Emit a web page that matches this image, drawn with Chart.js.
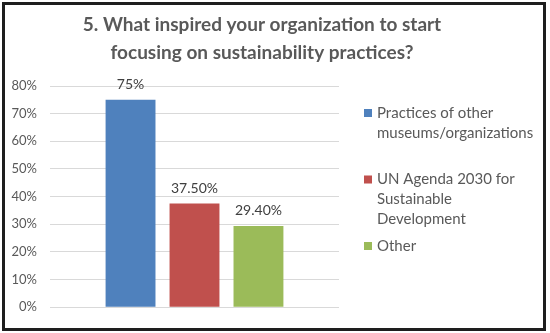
<!DOCTYPE html>
<html>
<head>
<meta charset="utf-8">
<script src="https://cdn.jsdelivr.net/npm/chart.js@4.4.0/dist/chart.umd.min.js"></script>
<style>
  body { margin: 0; background: #fff; }
  #box { position: absolute; left: 2px; top: 2px; width: 538px; height: 323px; border: 3px solid #1e1e1e; }
  canvas { display: block; }
</style>
</head>
<body>
<div id="box"><canvas id="chart" width="538" height="323"></canvas></div>
<script>
const titleLines = ['5. What inspired your organization to start', 'focusing on sustainability practices?'];
const seriesNames = ['Practices of other museums/organizations', 'UN Agenda 2030 for Sustainable Development', 'Other'];
const legendLines = [
    ['Practices of other', 'museums/organizations'],
    ['UN Agenda 2030 for', 'Sustainable', 'Development'],
    ['Other'],
];
const values = [75, 37.5, 29.4];
const valueLabels = ['75%', '37.50%', '29.40%'];
const colors = ['#4F81BD', '#C0504D', '#9BBB59'];
const yMax = 80;
const yStep = 10;

const FONT = 'Lato, "Open Sans", sans-serif';

// title, value labels and the multi-line legend drawn on the canvas
const extras = {
    id: 'extras',
    afterDatasetsDraw(chart) {
        const ctx = chart.ctx;
        ctx.save();
        ctx.fillStyle = '#404040';
        ctx.font = '14px ' + FONT;
        ctx.textAlign = 'center';
        ctx.textBaseline = 'middle';
        values.forEach((v, i) => {
            const bar = chart.getDatasetMeta(i).data[0];
            ctx.fillText(valueLabels[i], bar.x, bar.y - 15);
        });
        ctx.restore();
    },
    afterDraw(chart) {
        const ctx = chart.ctx;
        ctx.save();
        ctx.fillStyle = '#595959';
        ctx.font = 'bold 19px ' + FONT;
        ctx.textAlign = 'center';
        ctx.textBaseline = 'alphabetic';
        titleLines.forEach((t, i) => ctx.fillText(t, 257, 26 + i * 27.5));

        ctx.font = '15px ' + FONT;
        ctx.textAlign = 'left';
        ctx.textBaseline = 'middle';
        const left = chart.chartArea.right + 25;
        legendLines.forEach((lines, i) => {
            const top = 108 + i * 66.5;
            ctx.fillStyle = colors[i];
            ctx.fillRect(left, top - 4, 8, 8);
            ctx.fillStyle = '#595959';
            lines.forEach((l, j) => ctx.fillText(l, left + 13, top + j * 19.7));
        });
        ctx.restore();
    }
};

new Chart(document.getElementById('chart'), {
    type: 'bar',
    data: {
        labels: [''],
        datasets: seriesNames.map((name, i) => ({
            label: name,
            data: [values[i]],
            backgroundColor: colors[i],
            categoryPercentage: 0.664,
            barPercentage: 0.78,
        })),
    },
    options: {
        responsive: false,
        animation: false,
        layout: { padding: { top: 81, right: 204, bottom: 15, left: 0 } },
        plugins: {
            legend: { display: false },
            tooltip: { enabled: false },
        },
        scales: {
            x: { display: false },
            y: {
                min: 0,
                max: yMax,
                afterFit: scale => { scale.width = 45; },
                border: { display: false },
                grid: { color: '#d9d9d9', drawTicks: false },
                ticks: {
                    stepSize: yStep,
                    padding: 13,
                    color: '#595959',
                    font: { family: FONT, size: 13 },
                    callback: v => v + '%',
                },
            },
        },
    },
    plugins: [extras],
});
</script>
</body>
</html>
